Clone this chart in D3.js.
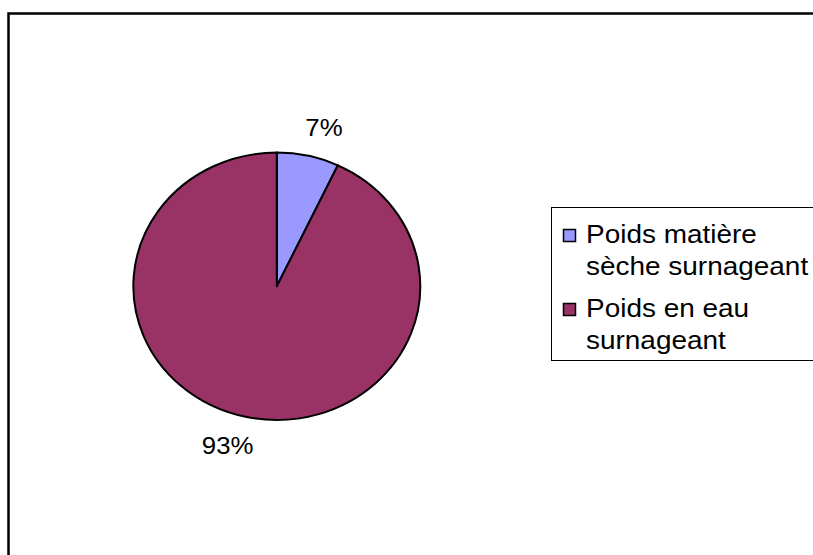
<!DOCTYPE html>
<html>
<head>
<meta charset="utf-8">
<script src="https://cdn.jsdelivr.net/npm/d3@7"></script>
<style>
  html, body { margin: 0; padding: 0; background: #fff; }
  svg { display: block; font-family: "Liberation Sans", Arial, sans-serif; }
</style>
</head>
<body>
<svg id="chart" width="813" height="555"></svg>
<script>
// Share of the supernatant's weight: dry matter vs. water
const categories = ["Poids matière sèche surnageant", "Poids en eau surnageant"];
const legendLines = [["Poids matière", "sèche surnageant"], ["Poids en eau", "surnageant"]];
const values = [7, 93];
const colors = ["#9999FF", "#993366"];

const svg = d3.select("#chart");

// Outer chart frame (runs off the right and bottom edges)
svg.append("rect")
  .attr("x", 8.5).attr("y", 13.5)
  .attr("width", 900).attr("height", 700)
  .attr("fill", "#fff")
  .attr("stroke", "#000")
  .attr("stroke-width", 2.5);

// Pie geometry: slightly wider than tall
const cx = 276.8, cy = 286.3;
const ry = 133.7, sx = 1.073;
const textStretch = 1.075;

const pie = d3.pie().sort(null).value(d => d);
const arcs = pie(values);
const arc = d3.arc().innerRadius(0).outerRadius(ry);

const pieG = svg.append("g")
  .attr("transform", `translate(${cx},${cy}) scale(${sx},1)`);

pieG.selectAll("path")
  .data(arcs)
  .join("path")
  .attr("d", arc)
  .attr("fill", (d, i) => colors[i])
  .attr("stroke", "#000")
  .attr("stroke-width", 2)
  .attr("vector-effect", "non-scaling-stroke")
  .attr("stroke-linejoin", "round");

// Percentage labels outside the slices
const labelArc = d3.arc().innerRadius(163).outerRadius(163);
const total = d3.sum(values);
svg.selectAll("text.pct")
  .data(arcs)
  .join("text")
  .attr("class", "pct")
  .attr("transform", d => {
    const [lx, ly] = labelArc.centroid(d);
    const x = cx + lx * sx + (lx >= 0 ? 9 : -11);
    const y = cy + ly;
    return `translate(${x},${y}) scale(${textStretch},1)`;
  })
  .attr("text-anchor", "middle")
  .attr("dy", "0.35em")
  .attr("font-size", 24)
  .attr("fill", "#000")
  .text(d => Math.round(d.data / total * 100) + "%");

// Legend
const legend = svg.append("g");
legend.append("rect")
  .attr("x", 551.5).attr("y", 207.5)
  .attr("width", 300).attr("height", 153)
  .attr("fill", "#fff")
  .attr("stroke", "#000")
  .attr("stroke-width", 1);

const item = legend.selectAll("g.item")
  .data(categories)
  .join("g")
  .attr("class", "item")
  .attr("transform", (d, i) => `translate(0,${i * 74})`);

item.append("rect")
  .attr("x", 563.5).attr("y", 229.5)
  .attr("width", 12).attr("height", 12)
  .attr("fill", (d, i) => colors[i])
  .attr("stroke", "#000")
  .attr("stroke-width", 1.5);

item.each(function(d, i) {
  const t = d3.select(this).append("text")
    .attr("transform", `translate(586,243) scale(${textStretch},1)`)
    .attr("font-size", 26)
    .attr("fill", "#000");
  legendLines[i].forEach((line, j) => {
    t.append("tspan").attr("x", 0).attr("y", j * 32).text(line);
  });
});
</script>
</body>
</html>
